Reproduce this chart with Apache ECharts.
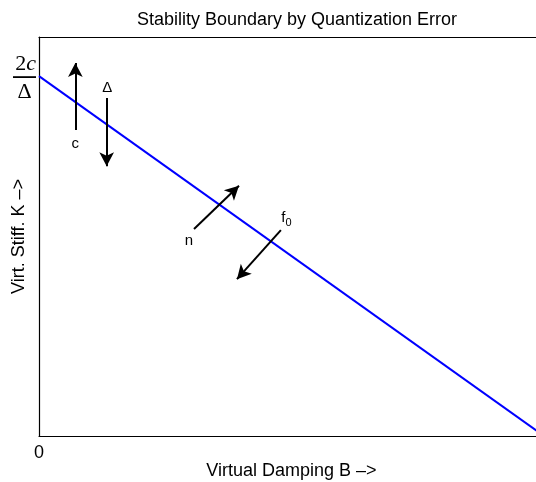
<!DOCTYPE html>
<html>
<head>
<meta charset="utf-8">
<script src="https://cdn.jsdelivr.net/npm/echarts@6/dist/echarts.min.js"></script>
<style>
  html, body { margin: 0; padding: 0; background: #fff; overflow: hidden; }
  #chart { width: 536px; height: 482px; }
</style>
</head>
<body>
<div id="chart"></div>
<script>
// Stability boundary: K falls linearly with damping B from 2c/Δ down to zero
const dampingB = [0, 1];
const stiffnessK = [0.902, 0];

// Direction arrows: [fromB, fromK, toB, toK]
const arrowC = [0.072, 0.767, 0.072, 0.935];
const arrowDelta = [0.134, 0.847, 0.134, 0.676];
const arrowN = [0.307, 0.519, 0.396, 0.627];
const arrowF0 = [0.479, 0.516, 0.392, 0.393];

// Arrow annotations: [B, K, text]
const arrowLabels = [
  [0.072, 0.732, 'c'],
  [0.135, 0.873, 'Δ'],
  [0.297, 0.490, 'n'],
  [0.490, 0.547, 'f0']
];

const xTickLabels = ['0'];
const interceptLabel = { num: '2', numItalic: 'c', den: 'Δ' };

const chart = echarts.init(document.getElementById('chart'));
const font = 'Liberation Sans, Arial, sans-serif';
const serif = 'Liberation Serif, DejaVu Serif, serif';

function arrowSeg(a) {
  return [{ coord: [a[0], a[1]] }, { coord: [a[2], a[3]] }];
}

chart.setOption({
  animation: false,
  backgroundColor: '#ffffff',
  title: {
    text: 'Stability Boundary by Quantization Error',
    left: 292, top: 6, textAlign: 'center',
    textStyle: { fontFamily: font, fontSize: 18, fontWeight: 'normal', color: '#000' }
  },
  grid: { left: 39, right: -8, top: 37, bottom: 46, containLabel: false, outerBoundsMode: 'none' },
  xAxis: [{
    type: 'value', min: 0, max: 1, interval: 1,
    name: 'Virtual Damping B \u2013>', nameLocation: 'middle', nameGap: 26,
    nameMoveOverlap: false,
    nameTextStyle: { fontFamily: font, fontSize: 18, color: '#000' },
    axisLine: { show: true, lineStyle: { color: '#000', width: 1.2 } },
    axisTick: { show: false },
    splitLine: { show: false },
    axisLabel: {
      fontFamily: font, fontSize: 18, color: '#000', margin: 8,
      formatter: v => (v === 0 ? xTickLabels[0] : '')
    }
  }, {
    type: 'value', min: 0, max: 1, position: 'top',
    axisLine: { show: true, onZero: false, lineStyle: { color: '#000', width: 1.2 } },
    axisTick: { show: false }, axisLabel: { show: false }, splitLine: { show: false }
  }],
  yAxis: {
    type: 'value', min: 0, max: 1,
    name: 'Virt. Stiff. K \u2013>', nameLocation: 'middle', nameGap: 11,
    nameMoveOverlap: false,
    nameTextStyle: { fontFamily: font, fontSize: 18, color: '#000' },
    axisLine: { show: true, lineStyle: { color: '#000', width: 1.2 } },
    axisTick: { show: false }, axisLabel: { show: false }, splitLine: { show: false }
  },
  series: [
    {
      type: 'line',
      data: dampingB.map((b, i) => [b, stiffnessK[i]]),
      showSymbol: false,
      lineStyle: { color: '#0000ff', width: 2 },
      z: 3,
      markLine: {
        silent: true,
        symbol: ['none', 'arrow'],
        symbolSize: [11, 14],
        label: { show: false },
        lineStyle: { color: '#000', width: 2, type: 'solid' },
        emphasis: { disabled: true },
        data: [arrowSeg(arrowC), arrowSeg(arrowDelta), arrowSeg(arrowN), arrowSeg(arrowF0)]
      }
    },
    {
      type: 'scatter',
      symbolSize: 0,
      silent: true,
      itemStyle: { opacity: 1 },
      data: arrowLabels.map(l => ({ value: [l[0], l[1]], name: l[2] })),
      label: {
        show: true, position: 'inside', color: '#000', opacity: 1,
        fontFamily: font, fontSize: 15,
        formatter: p => (p.name === 'f0' ? '{f|f}{s|0}' : p.name),
        rich: {
          f: { fontFamily: font, fontSize: 15, color: '#000' },
          s: { fontFamily: font, fontSize: 11, color: '#000', padding: [10, 0, 0, 0] }
        }
      }
    },
    {
      type: 'scatter',
      symbolSize: 0,
      silent: true,
      itemStyle: { opacity: 1 },
      data: [[dampingB[0], stiffnessK[0]]],
      label: {
        show: true, position: 'left', distance: 3, offset: [0, 3], opacity: 1,
        formatter: '{n|' + interceptLabel.num + '}{i|' + interceptLabel.numItalic + '}\n{bar|}\n{d|' + interceptLabel.den + '}',
        rich: {
          n: { fontFamily: serif, fontSize: 22, color: '#000', lineHeight: 22 },
          i: { fontFamily: serif, fontSize: 22, fontStyle: 'italic', color: '#000', lineHeight: 22 },
          bar: { width: 23, height: 1.8, backgroundColor: '#000', lineHeight: 4 },
          d: { fontFamily: serif, fontSize: 22, color: '#000', lineHeight: 26, align: 'center', width: 23 }
        }
      }
    }
  ]
});
</script>
</body>
</html>
